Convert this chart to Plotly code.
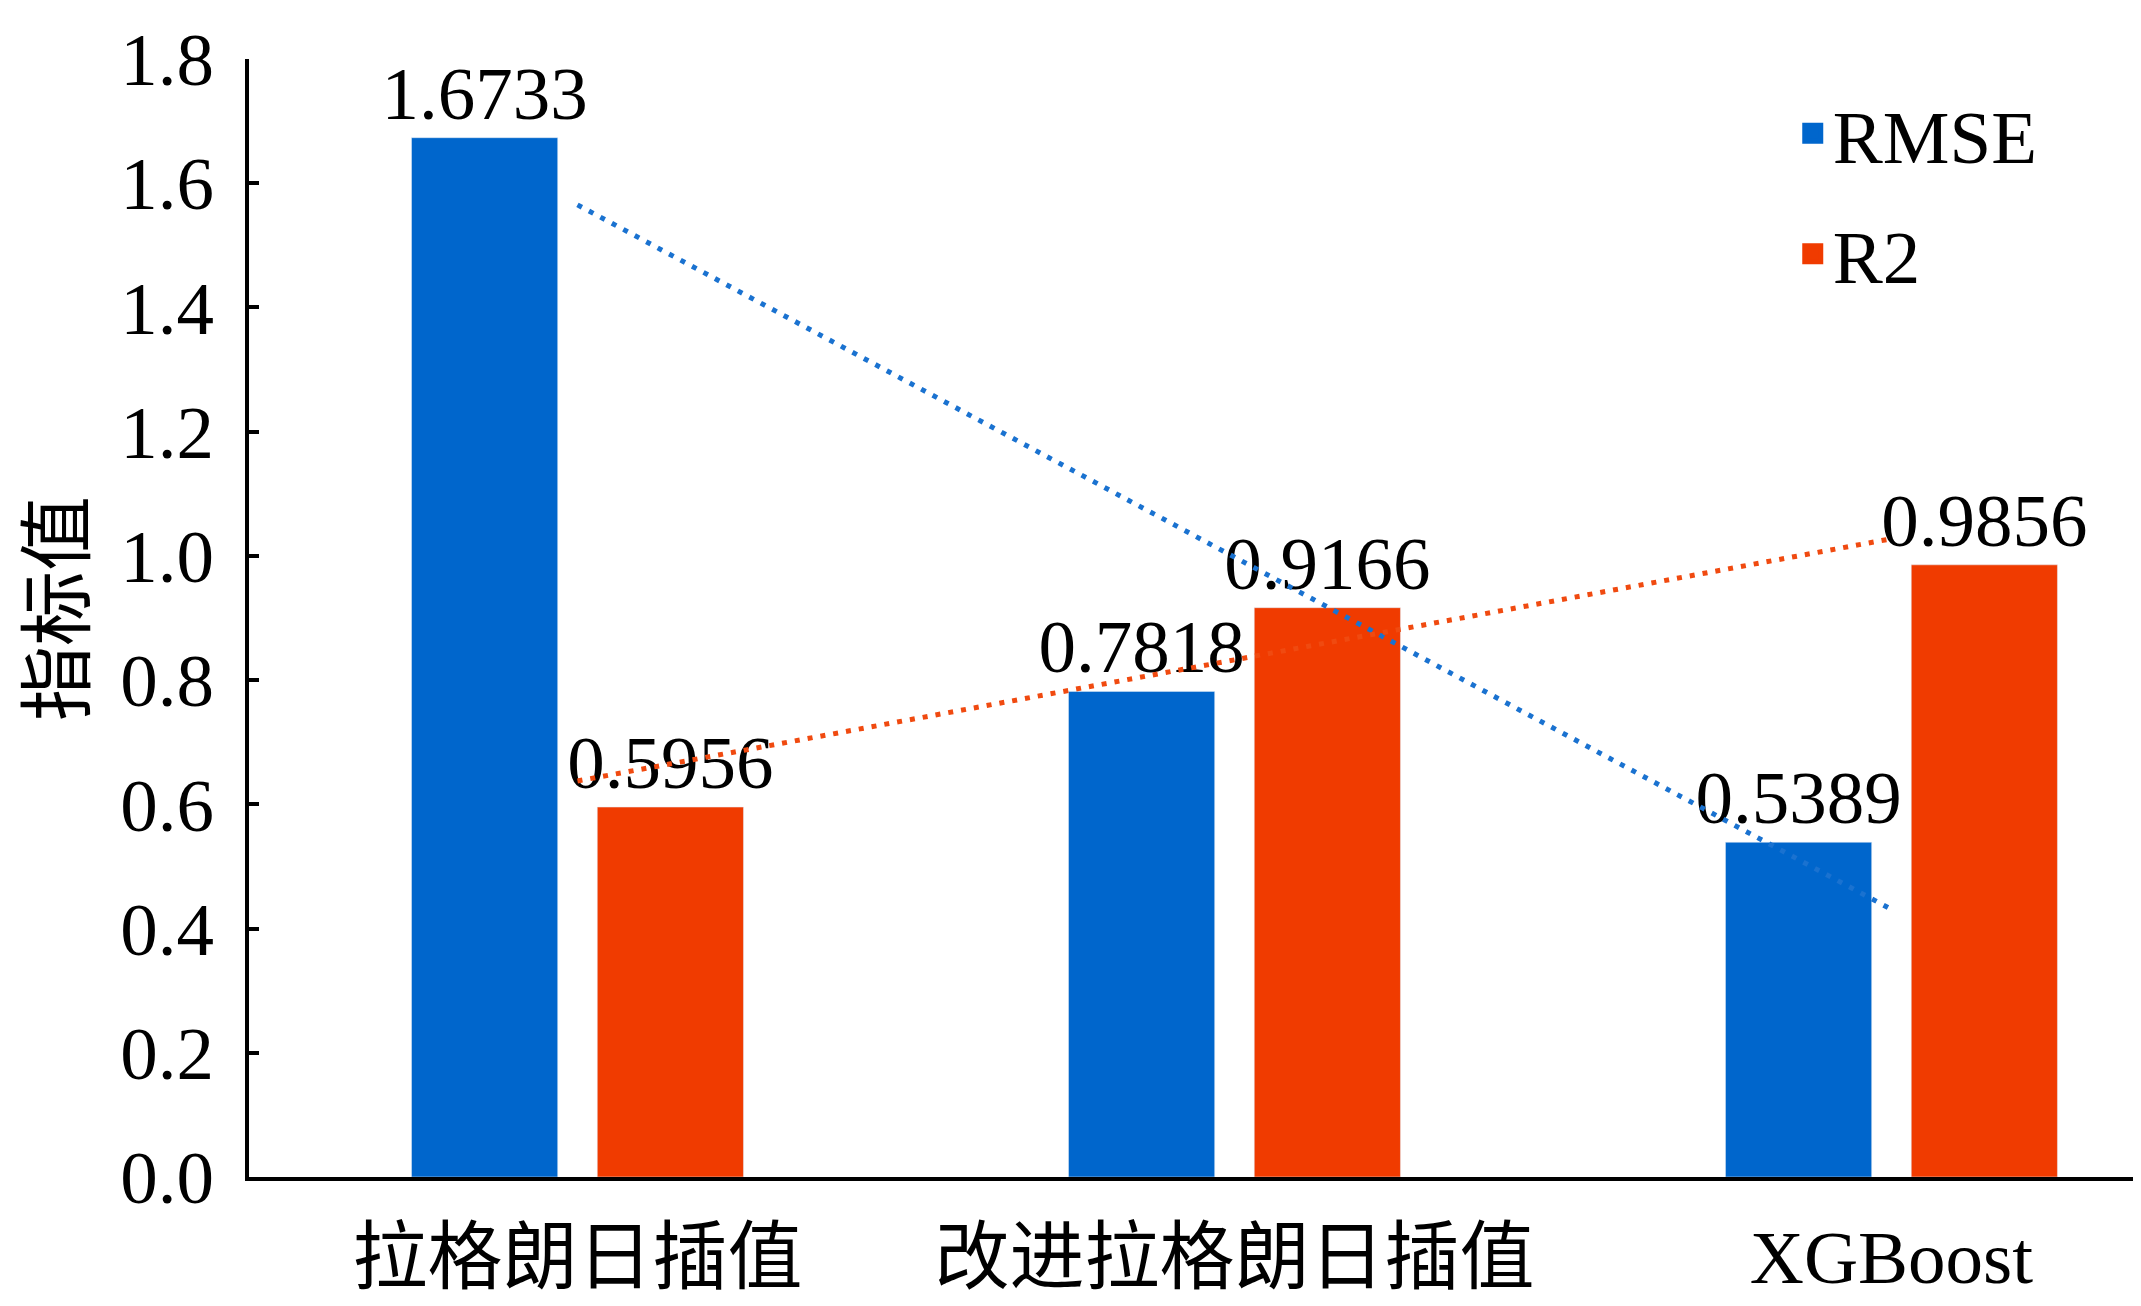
import numpy as np
import plotly.graph_objects as go

categories = ["拉格朗日插值", "改进拉格朗日插值", "XGBoost"]
rmse = [1.6733, 0.7818, 0.5389]
r2 = [0.5956, 0.9166, 0.9856]
y_ticks = [0.0, 0.2, 0.4, 0.6, 0.8, 1.0, 1.2, 1.4, 1.6, 1.8]
y_title = "指标值"

BLUE = "#0066CC"
RED = "#F03B00"
FONT = "Liberation Serif, Noto Sans CJK SC, serif"
FS = 75

fig = go.Figure()
for vals, name, col, grp in [(rmse, "RMSE", BLUE, "a"), (r2, "R2", RED, "b")]:
    fig.add_trace(go.Bar(x=categories, y=vals, name=name, marker_color=col,
                         texttemplate="%{y:.4f}", textposition="outside",
                         constraintext="none",
                         textfont=dict(family=FONT, size=FS, color="black"),
                         cliponaxis=False, showlegend=False, legendgroup=grp))

# linear trend lines (least squares over category index)
idx = np.arange(len(categories))
for vals, col in [(rmse, "#1A72D0"), (r2, "#F04A10")]:
    k, b = np.polyfit(idx, vals, 1)
    fit = k * idx + b
    fig.add_trace(go.Scatter(x=categories, y=fit, mode="lines",
                             line=dict(color=col, width=5, dash="5px,8px"),
                             showlegend=False, hoverinfo="skip"))

# legend entries (square swatches)
for name, col, grp in [("RMSE", BLUE, "a"), ("R2", RED, "b")]:
    fig.add_trace(go.Scatter(x=[None], y=[None], mode="markers", name=name,
                             marker=dict(symbol="square", size=16, color=col,
                                         line=dict(color=col, width=5)),
                             legendgroup=grp, showlegend=True))

fig.update_layout(
    width=2141, height=1306,
    paper_bgcolor="white", plot_bgcolor="white",
    margin=dict(l=241, r=0, t=51, b=137),
    barmode="group", bargap=0.4345, bargroupgap=0.213,
    font=dict(family=FONT, size=FS, color="black"),
    legend=dict(x=0.8125, y=0.983, xanchor="left", yanchor="top",
                font=dict(family=FONT, size=FS, color="black"),
                bgcolor="rgba(0,0,0,0)", traceorder="grouped",
                tracegroupgap=20),
    showlegend=True,
    annotations=[dict(text=y_title, xref="paper", yref="paper",
                      x=-0.1037, y=0.509, xanchor="center", yanchor="middle",
                      textangle=-90, showarrow=False,
                      font=dict(family="Noto Sans CJK SC", size=FS, color="black"))],
)
fig.update_xaxes(range=[-0.5, 2.392], showline=True, linecolor="black",
                 linewidth=4, ticks="", showgrid=False, zeroline=False,
                 automargin=False,
                 tickfont=dict(family=FONT, size=FS, color="black"),
                 ticklabelstandoff=12)
fig.update_yaxes(range=[0, 1.8], tickvals=y_ticks,
                 ticktext=[f"{v:.1f}" for v in y_ticks],
                 showline=True, linecolor="black", linewidth=4,
                 ticks="inside", ticklen=10, tickwidth=4, tickcolor="black",
                 showgrid=False, zeroline=False, automargin=False,
                 tickfont=dict(family=FONT, size=FS, color="black"),
                 ticklabelstandoff=16)

fig.write_html("out.html")
